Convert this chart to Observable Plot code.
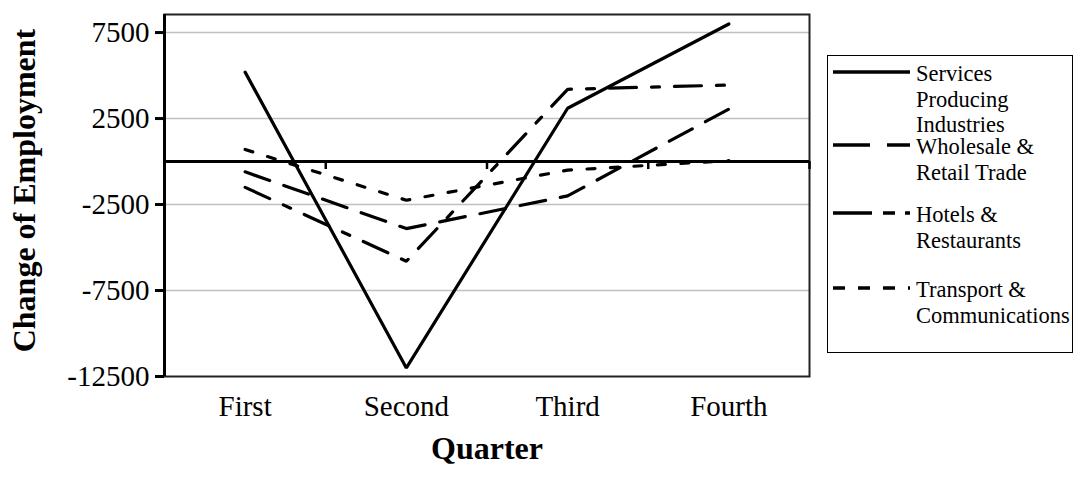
<!DOCTYPE html>
<html><head><meta charset="utf-8">
<script src="https://cdn.jsdelivr.net/npm/d3@7"></script>
<script src="https://cdn.jsdelivr.net/npm/@observablehq/plot@0.6"></script>
<style>
body{margin:0;background:#fff;}
#wrap{position:relative;width:1075px;height:491px;font-family:"Liberation Serif","Times New Roman",serif;color:#000;}
#legend{position:absolute;left:827px;top:55px;width:246px;height:298px;box-sizing:border-box;border:1.5px solid #000;background:#fff;}
.entry{position:absolute;left:0;width:245px;}
.entry svg{position:absolute;left:5px;}
.entry .txt{position:absolute;left:88px;font-size:22.5px;line-height:25.5px;white-space:nowrap;}
</style></head><body><div id="wrap"></div>
<script>
const quarters = ["First", "Second", "Third", "Fourth"];
const seriesNames = ["Services Producing Industries", "Wholesale & Retail Trade", "Hotels & Restaurants", "Transport & Communications"];
const services = [5200, -12000, 3100, 8000];
const wholesale = [-600, -3900, -2000, 3050];
const hotels = [-1500, -5800, 4200, 4450];
const transport = [700, -2250, -500, 50];
const yTicks = [-12500, -7500, -2500, 2500, 7500];
const yDomain = [-12500, 8550];
const legendLines = [["Services", "Producing", "Industries"], ["Wholesale &", "Retail Trade"], ["Hotels &", "Restaurants"], ["Transport &", "Communications"]];

const seriesValues = [services, wholesale, hotels, transport];
const dashes = [null, "26,15", "27,15,8,15", "8,15.5"];
const legendDashes = [null, "37,17", "39,11,12,10", "12,13"];
const legendTop = [73, 146, 214, 289];

const rows = [];
seriesNames.forEach((s, k) => seriesValues[k].forEach((v, i) => rows.push({series: s, i, value: v})));
const xDomain = [-0.5, quarters.length - 0.5];
const boundaries = quarters.map((_, i) => i + 0.5);

const lineMarks = seriesNames.map((s, k) => Plot.line(rows.filter(r => r.series === s), {
  x: "i", y: "value", stroke: "#000", strokeWidth: 3.2, strokeDasharray: dashes[k], strokeLinejoin: "miter"
}));

const chart = Plot.plot({
  width: 1075, height: 491,
  marginLeft: 164, marginRight: 266, marginTop: 14, marginBottom: 115,
  style: {fontFamily: '"Liberation Serif", "Times New Roman", serif', fontSize: "29px", background: "white", color: "#000"},
  x: {type: "linear", domain: xDomain},
  y: {domain: yDomain},
  marks: [
    Plot.gridY(yTicks.filter(t => t !== yDomain[0]), {stroke: "#c0c0c0", strokeOpacity: 1, strokeWidth: 1.5}),
    Plot.frame({stroke: "#222", strokeWidth: 2}),
    Plot.ruleY([0], {stroke: "#000", strokeWidth: 3}),
    Plot.ruleX(boundaries, {x: d => d, y1: 0, y2: 0, insetBottom: -8, stroke: "#000", strokeWidth: 2.5}),
    ...lineMarks,
    Plot.ruleX([xDomain[0]], {stroke: "#000", strokeWidth: 3}),
    Plot.axisY({ticks: yTicks, tickSize: 9, tickPadding: 6, tickFormat: d => String(d), label: null, stroke: "#000", strokeWidth: 3, fontSize: 29}),
    Plot.axisX({ticks: quarters.map((_, i) => i), tickFormat: i => quarters[i], tickSize: 0, tickPadding: 19, label: null, fontSize: 29}),
    Plot.text(["Change of Employment"], {frameAnchor: "left", textAnchor: "middle", rotate: -90, dx: -140, dy: -5, fontWeight: "bold", fontSize: 32}),
    Plot.text(["Quarter"], {frameAnchor: "bottom", textAnchor: "middle", dy: 82, fontWeight: "bold", fontSize: 32})
  ]
});
const wrap = document.getElementById("wrap");
wrap.appendChild(chart);

const legend = document.createElement("div");
legend.id = "legend";
legendLines.forEach((lines, k) => {
  const e = document.createElement("div");
  e.className = "entry";
  const firstCenter = legendTop[k] - 55;
  e.style.top = (firstCenter - 12.75) + "px";
  const ns = "http://www.w3.org/2000/svg";
  const svg = document.createElementNS(ns, "svg");
  svg.setAttribute("width", 80); svg.setAttribute("height", 10);
  svg.style.top = (12.75 - 2 - 5) + "px";
  const ln = document.createElementNS(ns, "line");
  ln.setAttribute("x1", 0); ln.setAttribute("x2", 77); ln.setAttribute("y1", 5); ln.setAttribute("y2", 5);
  ln.setAttribute("stroke", "#000"); ln.setAttribute("stroke-width", 3.5);
  if (legendDashes[k]) ln.setAttribute("stroke-dasharray", legendDashes[k]);
  svg.appendChild(ln);
  e.appendChild(svg);
  const t = document.createElement("div");
  t.className = "txt";
  t.innerHTML = lines.map(l => l.replace(/&/g, "&amp;")).join("<br>");
  e.appendChild(t);
  legend.appendChild(e);
});
wrap.appendChild(legend);
</script>
</body></html>
